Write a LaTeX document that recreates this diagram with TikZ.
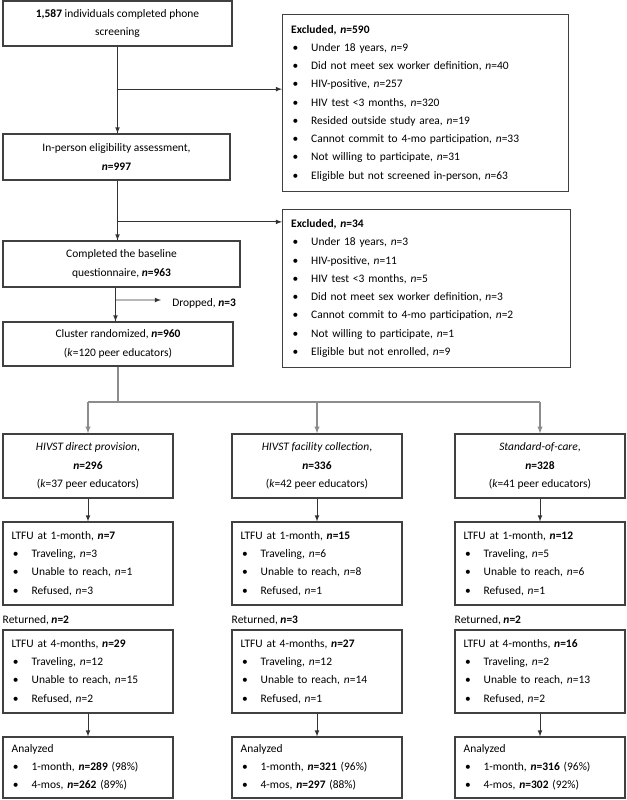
\documentclass[tikz,border=0pt]{standalone}
\usepackage{fontspec}
\setmainfont{Carlito}
\usetikzlibrary{calc}

\newcommand{\nn}[1]{\textit{n}=#1}
\newcommand{\nb}[1]{\textbf{\textit{n}=#1}}
\newcommand{\bul}{\makebox[15pt][l]{\hspace{1pt}\textbullet}}

\tikzset{
  every node/.style={font=\fontsize{8.6}{13.7}\selectfont},
  box/.style={draw=black!75,line width=0.8pt,inner sep=0pt,align=center},
  lbox/.style={box,align=left,text width=#1,inner xsep=6.5pt},
  link/.style={draw=black!80,line width=0.6pt},
  glink/.style={draw=black!45,line width=0.8pt},
  >=latex
}

\begin{document}
\begin{tikzpicture}[x=0.75pt,y=-0.75pt]
  \useasboundingbox (0,0) rectangle (626,800);

  % screening chain
  \node[box,minimum width=171.75pt,minimum height=33.75pt] (screen) at (117.5,23.5)
    {\textbf{1,587} individuals completed phone\\screening};
  \node[box,minimum width=170.25pt,minimum height=34.5pt] (elig) at (116.5,157)
    {In-person eligibility assessment,\\\nb{997}};
  \node[box,minimum width=177.75pt,minimum height=34.5pt] (base) at (121.5,264)
    {Completed the baseline\\questionnaire, \nb{963}};
  \node[box,minimum width=172.5pt,minimum height=33pt] (rand) at (118,344)
    {Cluster randomized, \nb{960}\\(\textit{k}=120 peer educators)};

  % exclusions
  \node[lbox=201.5pt,minimum height=132.75pt,anchor=north west] (excl1) at (282,14)
    {\textbf{Excluded, \textit{n}=590}\\
     \bul Under 18 years, \nn{9}\\
     \bul Did not meet sex worker definition, \nn{40}\\
     \bul HIV-positive, \nn{257}\\
     \bul HIV test <3 months, \nn{320}\\
     \bul Resided outside study area, \nn{19}\\
     \bul Cannot commit to 4-mo participation, \nn{33}\\
     \bul Not willing to participate, \nn{31}\\
     \bul Eligible but not screened in-person, \nn{63}};
  \node[lbox=203pt,minimum height=118.5pt,anchor=north west] (excl2) at (282,209)
    {\textbf{Excluded, \textit{n}=34}\\
     \bul Under 18 years, \nn{3}\\
     \bul HIV-positive, \nn{11}\\
     \bul HIV test <3 months, \nn{5}\\
     \bul Did not meet sex worker definition, \nn{3}\\
     \bul Cannot commit to 4-mo participation, \nn{2}\\
     \bul Not willing to participate, \nn{1}\\
     \bul Eligible but not enrolled, \nn{9}};
  \node[anchor=west,inner sep=0pt] (drop) at (172,303) {Dropped, \nb{3}};

  \draw[link] (screen.south) -- (screen.south |- elig.north) coordinate[pos=0.49] (j1);
  \draw[link,->] (j1) -- (j1 -| excl1.west);
  \draw[link,->] (j1) -- (j1 |- elig.north);
  \draw[link] (elig.south -| j1) -- (j1 |- base.north) coordinate[pos=0.69] (j2);
  \draw[link,->] (j2) -- (j2 -| excl2.west);
  \draw[link,->] (j2) -- (j2 |- base.north);
  \draw[link] ($(base.south)+(-6,0)$) coordinate (j3a) -- (j3a |- rand.north) coordinate[pos=0.37] (j3);
  \draw[link,->] (j3) -- ($(drop.west)+(-11,-3)$);
  \draw[link,->] (j3) -- (j3 |- rand.north);

  % arms
  \foreach \name/\cx/\title/\nr/\kk/\la/\ta/\ua/\ra/\ret/\lb/\tb/\ub/\rb/\ma/\pa/\mb/\pb in {
    dir/88/HIVST direct provision/296/37/7/3/1/3/2/29/12/15/2/289/98/262/89,
    fac/317/HIVST facility collection/336/42/15/6/8/1/3/27/12/14/1/321/96/297/88,
    soc/540/Standard-of-care/328/41/12/5/6/1/2/16/2/13/2/316/96/302/92}{
    \node[box,minimum width=127.5pt,minimum height=48pt] (\name) at (\cx,466)
      {\textit{\title},\\\nb{\nr}\\(\textit{k}=\kk{} peer educators)};
    \node[lbox=114.5pt,minimum height=62.25pt] (\name1) at (\cx,563.5)
      {LTFU at 1-month, \nb{\la}\\
       \bul Traveling, \nn{\ta}\\
       \bul Unable to reach, \nn{\ua}\\
       \bul Refused, \nn{\ra}};
    \node[lbox=114.5pt,minimum height=62.25pt] (\name4) at (\cx,671.5)
      {LTFU at 4-months, \nb{\lb}\\
       \bul Traveling, \nn{\tb}\\
       \bul Unable to reach, \nn{\ub}\\
       \bul Refused, \nn{\rb}};
    \node[anchor=west,inner sep=0pt] (\name r) at ($(\name1.south west)+(0,15)$) {Returned, \nb{\ret}};
    \node[lbox=114.5pt,minimum height=45.75pt] (\name a) at (\cx,767.5)
      {Analyzed\\
       \bul 1-month, \nb{\ma} (\pa\%)\\
       \bul 4-mos, \nb{\mb} (\pb\%)};
    \draw[link,->] (\name.south) -- (\name1.north);
    \draw[link,->] (\name4.south) -- (\name a.north);
  }

  % randomization split
  \draw[glink] (rand.south) -- (rand.south |- 0,402) coordinate (split);
  \draw[glink] (split -| dir.north) -- (split -| soc.north);
  \foreach \name in {dir,fac,soc}
    \draw[glink,->] (split -| \name.north) -- (\name.north);
\end{tikzpicture}
\end{document}
